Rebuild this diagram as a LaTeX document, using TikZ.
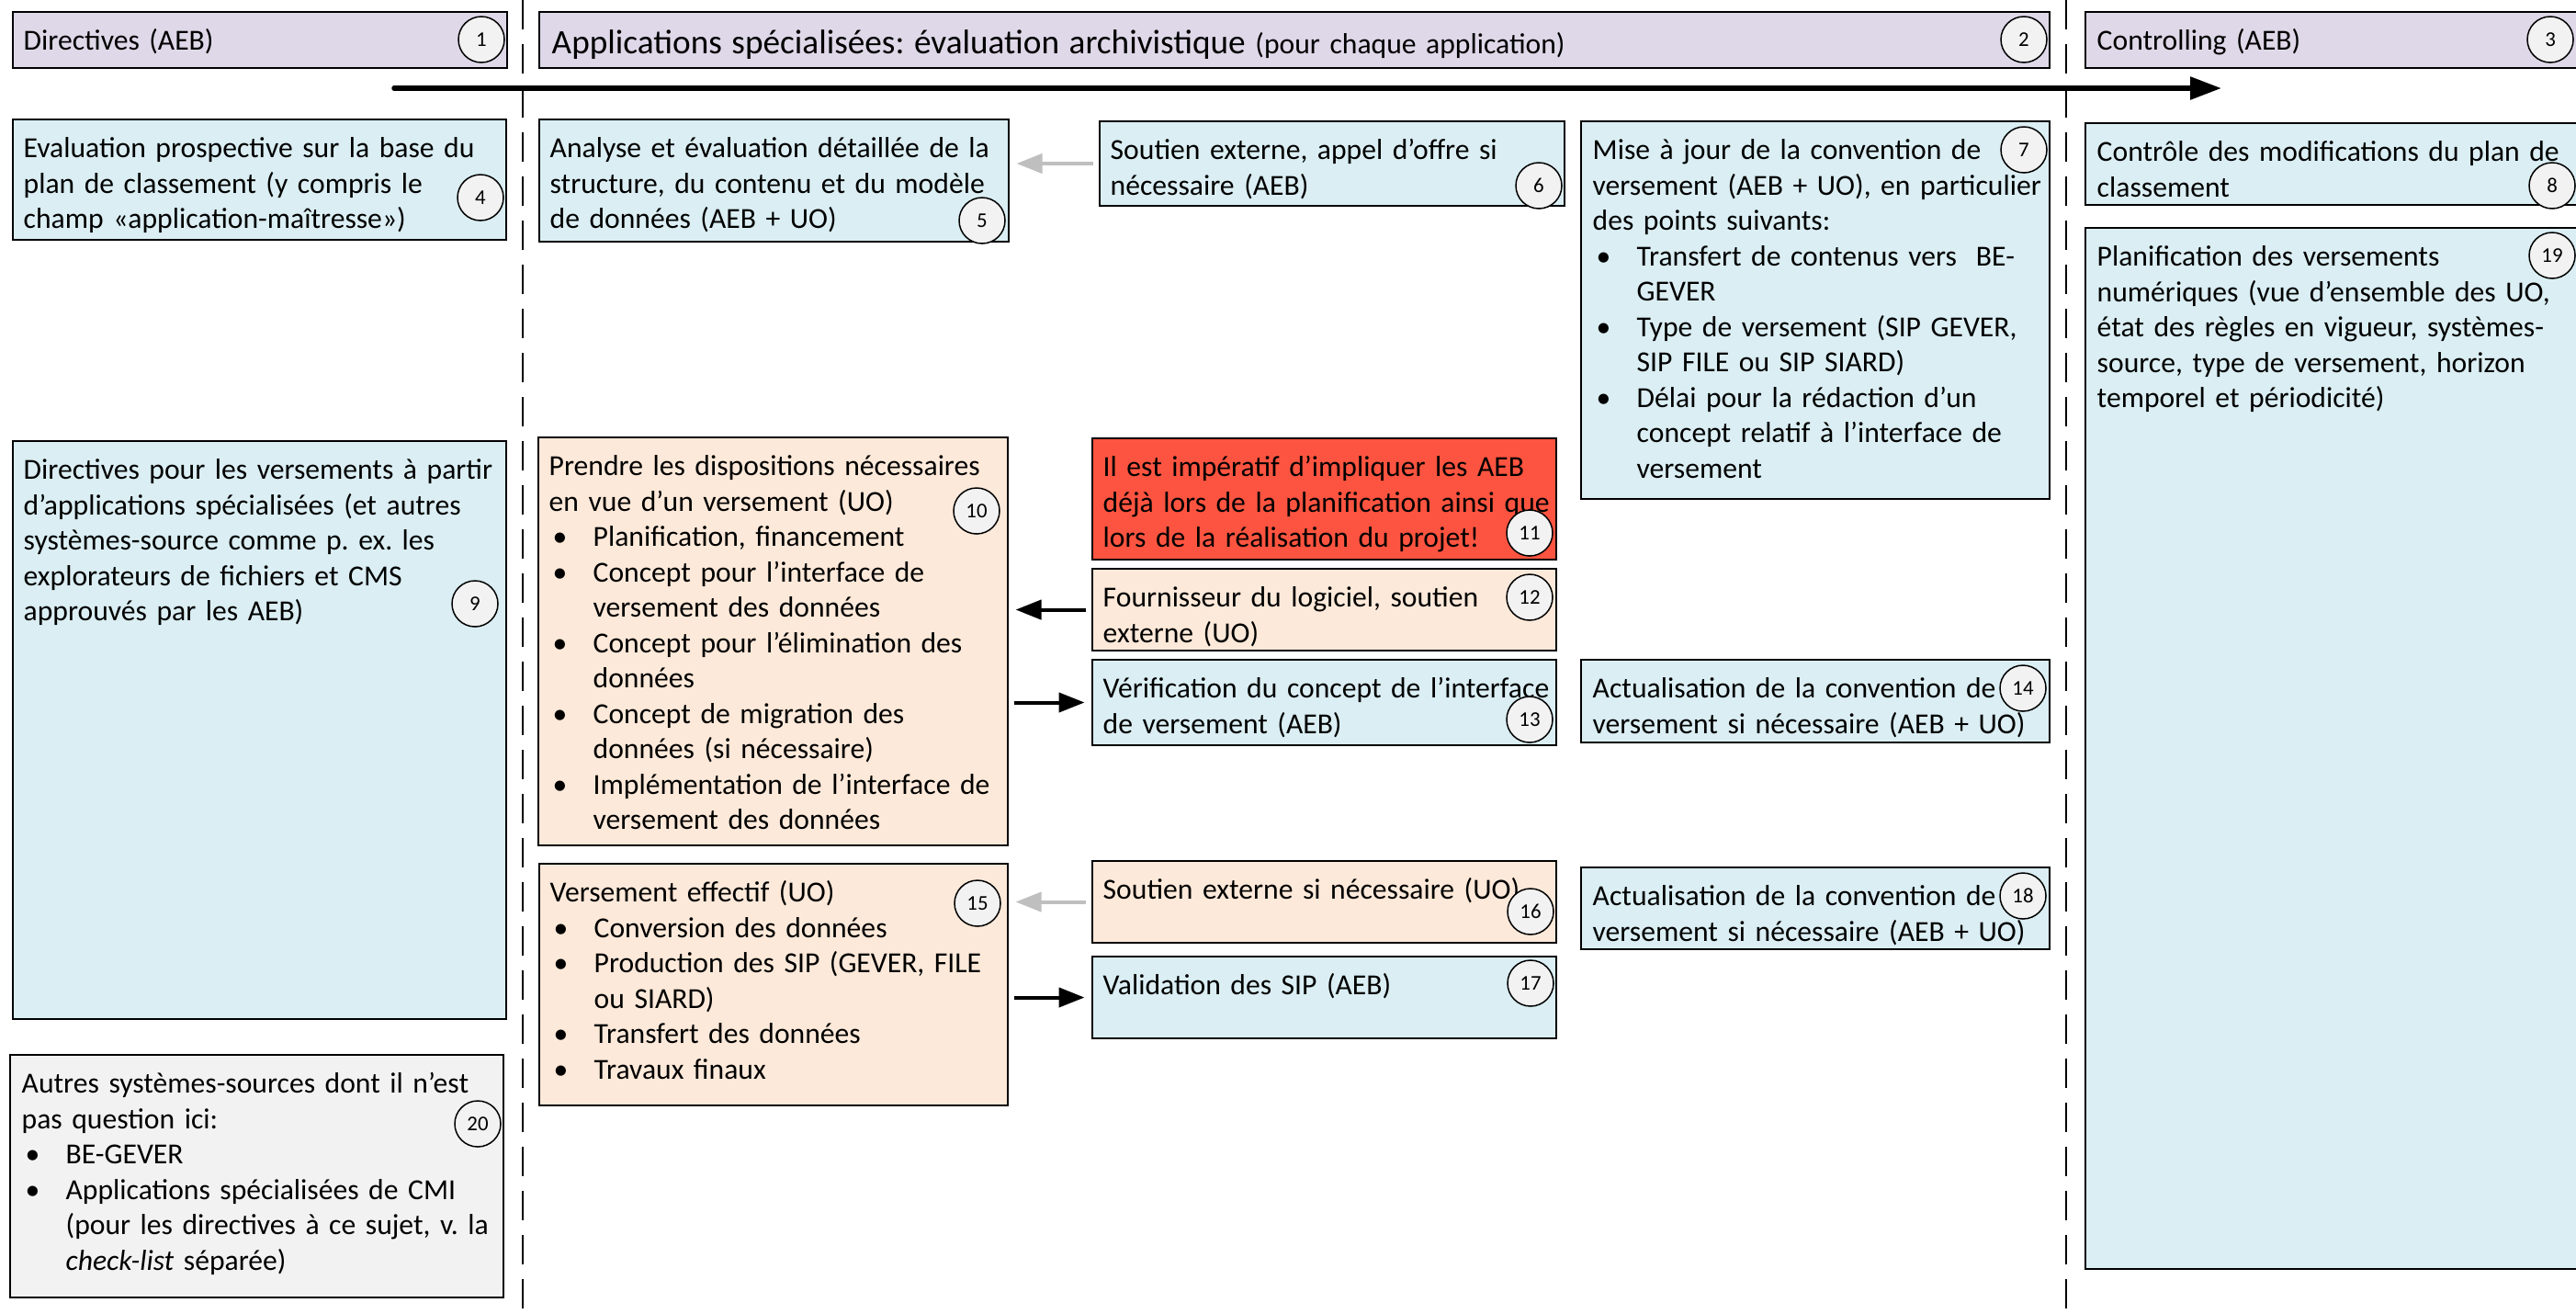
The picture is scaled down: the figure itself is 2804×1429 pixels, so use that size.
\documentclass[tikz,border=0pt]{standalone}
\usepackage{fontspec}
\setmainfont{Carlito}
\usetikzlibrary{arrows.meta}

\definecolor{lavender}{RGB}{222,216,232}
\definecolor{paleblue}{RGB}{218,238,243}
\definecolor{peach}{RGB}{253,233,217}
\definecolor{alertred}{RGB}{252,84,64}
\definecolor{palegrey}{RGB}{242,242,242}
\definecolor{midgrey}{RGB}{191,191,191}

\newcommand{\bul}{\makebox[4.8mm][l]{\hspace{0.4mm}\textbullet}}
\newcommand{\ind}{\hspace*{4.8mm}}

\begin{document}
\begin{tikzpicture}[x=0.1mm, y=-0.1mm,
        box/.style={draw, line width=0.2mm, anchor=north west, outer sep=0pt, inner sep=0pt},
        header/.style={box, fill=lavender},
        infobox/.style={box, fill=paleblue},
        taskbox/.style={box, fill=peach},
        alertbox/.style={box, fill=alertred},
        otherbox/.style={box, fill=palegrey},
        txt/.style={anchor=north west, inner sep=0pt, text width=60mm,
            font=\fontsize{9}{10.96}\selectfont,
            execute at begin node={\raggedright\frenchspacing\rule{0pt}{4.1mm}}},
        num/.style={circle, draw, line width=0.15mm, fill=palegrey, minimum size=5mm, inner sep=0pt,
            font=\fontsize{6.5}{7}\selectfont},
        fwd/.style={-{Triangle[length=2.8mm, width=2.1mm]}, line width=0.4mm, shorten >=0.85mm, shorten <=0.7mm},
        aux/.style={fwd, midgrey},
        timeline/.style={-{Triangle[length=3.4mm, width=2.4mm]}, line width=0.55mm, line cap=round},
        sep/.style={line width=0.2mm, dash pattern=on 3.2mm off 1.6mm}
    ]
        \useasboundingbox (0,0) rectangle (2804,1429);

        % Column separators
        \coordinate (s1top) at (569,0);
        \coordinate (s1bot) at (569,1429);
        \coordinate (s2top) at (2249,0);
        \coordinate (s2bot) at (2249,1429);
        \draw[sep] (s1top) -- (s1bot);
        \draw[sep] (s2top) -- (s2bot);

        % Header row
        \node[header, minimum width=53.8mm, minimum height=6.1mm] (b1) at (14,13) {};
        \node[header, minimum width=164.4mm, minimum height=6.1mm] (b2) at (587,13) {};
        \node[header, minimum width=53.6mm, minimum height=6.1mm] (b3) at (2270,13) {};
        \node[txt] (t1) at ([xshift=1.1mm]b1.north west) {Directives (AEB)};
        \node[txt, text width=160mm] (t2) at ([xshift=1.3mm]b2.north west)
            {\rule{0pt}{4.5mm}{\fontsize{10.6}{13}\selectfont Applications spécialisées: évaluation archivistique} (pour chaque application)};
        \node[txt] (t3) at ([xshift=1.2mm]b3.north west) {Controlling (AEB)};

        % Time arrow
        \coordinate (tl0) at (429,96);
        \coordinate (tl1) at (2418,96);
        \draw[timeline] (tl0) -- (tl1);

        % Directives column
        \node[infobox, minimum width=53.7mm, minimum height=13.1mm] (b4) at (14,130) {};
        \node[infobox, minimum width=53.7mm, minimum height=62.9mm] (b9) at (14,480) {};
        \node[otherbox, minimum width=53.7mm, minimum height=26.4mm] (b20) at (11,1148) {};
        \node[txt] (t4) at ([xshift=1.1mm]b4.north west)
            {Evaluation prospective sur la base du\\plan de classement (y compris le\\champ «application-maîtresse»)};
        \node[txt] (t9) at ([xshift=1.1mm]b9.north west)
            {Directives pour les versements à partir\\d’applications spécialisées (et autres\\systèmes-source comme p. ex. les\\explorateurs de fichiers et CMS\\approuvés par les AEB)};
        \node[txt] (t20) at ([xshift=1.2mm]b20.north west)
            {Autres systèmes-sources dont il n’est\\pas question ici:\\
             \bul BE-GEVER\\
             \bul Applications spécialisées de CMI\\
             \ind (pour les directives à ce sujet, v. la\\
             \ind \textit{check-list} séparée)};

        % Applications column, left
        \node[infobox, minimum width=51.1mm, minimum height=13.3mm] (b5) at (587,130) {};
        \node[taskbox, minimum width=51.1mm, minimum height=44.4mm] (b10) at (586,476) {};
        \node[taskbox, minimum width=51.0mm, minimum height=26.3mm] (b15) at (587,940) {};
        \node[txt] (t5) at ([xshift=1.1mm]b5.north west)
            {Analyse et évaluation détaillée de la\\structure, du contenu et du modèle\\de données (AEB + UO)};
        \node[txt] (t10) at ([xshift=1.1mm]b10.north west)
            {Prendre les dispositions nécessaires\\en vue d’un versement (UO)\\
             \bul Planification, financement\\
             \bul Concept pour l’interface de\\
             \ind versement des données\\
             \bul Concept pour l’élimination des\\
             \ind données\\
             \bul Concept de migration des\\
             \ind données (si nécessaire)\\
             \bul Implémentation de l’interface de\\
             \ind versement des données};
        \node[txt] (t15) at ([xshift=1.1mm]b15.north west)
            {Versement effectif (UO)\\
             \bul Conversion des données\\
             \bul Production des SIP (GEVER, FILE\\
             \ind ou SIARD)\\
             \bul Transfert des données\\
             \bul Travaux finaux};

        % Applications column, middle
        \node[infobox, minimum width=50.6mm, minimum height=9.2mm] (b6) at (1197,132) {};
        \node[alertbox, minimum width=50.5mm, minimum height=13.2mm] (b11) at (1189,477) {};
        \node[taskbox, minimum width=50.5mm, minimum height=8.9mm] (b12) at (1189,619) {};
        \node[infobox, minimum width=50.5mm, minimum height=9.3mm] (b13) at (1189,718) {};
        \node[taskbox, minimum width=50.5mm, minimum height=8.9mm] (b16) at (1189,937) {};
        \node[infobox, minimum width=50.5mm, minimum height=8.9mm] (b17) at (1189,1041) {};
        \node[txt] (t6) at ([xshift=1.1mm]b6.north west) {Soutien externe, appel d’offre si\\nécessaire (AEB)};
        \node[txt] (t11) at ([xshift=1.1mm]b11.north west)
            {Il est impératif d’impliquer les AEB\\déjà lors de la planification ainsi que\\lors de la réalisation du projet!};
        \node[txt] (t12) at ([xshift=1.1mm]b12.north west) {Fournisseur du logiciel, soutien\\externe (UO)};
        \node[txt] (t13) at ([xshift=1.1mm]b13.north west) {Vérification du concept de l’interface\\de versement (AEB)};
        \node[txt] (t16) at ([xshift=1.1mm]b16.north west) {Soutien externe si nécessaire (UO)};
        \node[txt] (t17) at ([xshift=1.1mm]b17.north west) {Validation des SIP (AEB)};

        % Applications column, right
        \node[infobox, minimum width=51.0mm, minimum height=41.1mm] (b7) at (1721,132) {};
        \node[infobox, minimum width=51.0mm, minimum height=9.0mm] (b14) at (1721,718) {};
        \node[infobox, minimum width=51.0mm, minimum height=8.9mm] (b18) at (1721,944) {};
        \node[txt] (t7) at ([xshift=1.2mm]b7.north west)
            {Mise à jour de la convention de\\versement (AEB + UO), en particulier\\des points suivants:\\
             \bul Transfert de contenus vers~ BE-\\
             \ind GEVER\\
             \bul Type de versement (SIP GEVER,\\
             \ind SIP FILE ou SIP SIARD)\\
             \bul Délai pour la rédaction d’un\\
             \ind concept relatif à l’interface de\\
             \ind versement};
        \node[txt] (t14) at ([xshift=1.2mm]b14.north west) {Actualisation de la convention de\\versement si nécessaire (AEB + UO)};
        \node[txt] (t18) at ([xshift=1.2mm]b18.north west) {Actualisation de la convention de\\versement si nécessaire (AEB + UO)};

        % Controlling column
        \node[infobox, minimum width=53.6mm, minimum height=8.9mm] (b8) at (2270,134) {};
        \node[infobox, minimum width=53.6mm, minimum height=113.3mm] (b19) at (2270,248) {};
        \node[txt] (t8) at ([xshift=1.2mm]b8.north west) {Contrôle des modifications du plan de\\classement};
        \node[txt] (t19) at ([xshift=1.2mm]b19.north west)
            {Planification des versements\\numériques (vue d’ensemble des UO,\\état des règles en vigueur, systèmes-\\source, type de versement, horizon\\temporel et périodicité)};

        % Links between boxes
        \draw[aux] (b6.west) -- (b6.west -| b5.east);
        \draw[fwd] (b12.west) -- (b12.west -| b10.east);
        \draw[fwd] (b10.east |- b13.west) -- (b13.west);
        \draw[aux] (b16.west) -- (b16.west -| b15.east);
        \draw[fwd] (b15.east |- b17.west) -- (b17.west);

        % Step numbers
        \node[num] (n1) at (524,43) {1};
        \node[num] (n2) at (2203,43) {2};
        \node[num] (n3) at (2776,43) {3};
        \node[num] (n4) at (523,215) {4};
        \node[num] (n5) at (1069,240) {5};
        \node[num] (n6) at (1675,202) {6};
        \node[num] (n7) at (2203,163) {7};
        \node[num] (n8) at (2778,202) {8};
        \node[num] (n9) at (517,657) {9};
        \node[num] (n10) at (1063,556) {10};
        \node[num] (n11) at (1665,580) {11};
        \node[num] (n12) at (1665,650) {12};
        \node[num] (n13) at (1665,783) {13};
        \node[num] (n14) at (2202,749) {14};
        \node[num] (n15) at (1064,983) {15};
        \node[num] (n16) at (1666,992) {16};
        \node[num] (n17) at (1666,1070) {17};
        \node[num] (n18) at (2202,975) {18};
        \node[num] (n19) at (2778,278) {19};
        \node[num] (n20) at (520,1223) {20};
    \end{tikzpicture}
\end{document}
